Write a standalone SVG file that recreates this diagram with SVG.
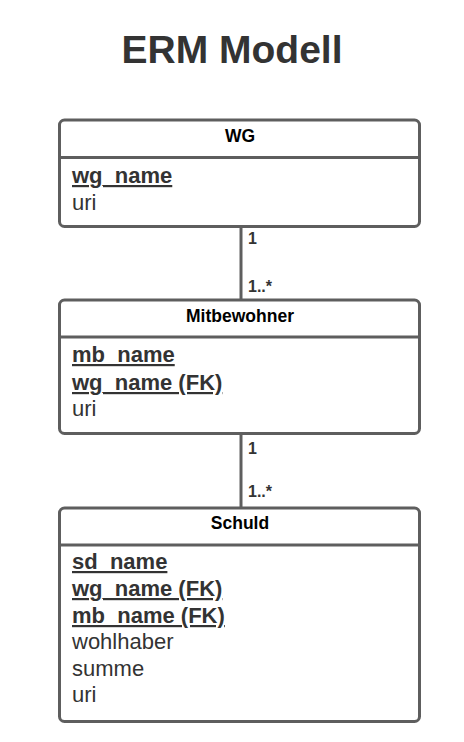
<svg xmlns="http://www.w3.org/2000/svg" width="464" height="742" viewBox="0 0 464 742">
<style>
.box{fill:#fff;stroke:#5e5e5e;stroke-width:3}
.div{stroke:#5e5e5e;stroke-width:3}
.hdr{font-family:"Liberation Sans",Arial,sans-serif;font-weight:bold;font-size:17.5px;fill:#000;text-anchor:middle}
.pk{font-family:"Liberation Sans",Arial,sans-serif;font-weight:bold;font-size:22px;fill:#333;text-decoration:underline}
.at{font-family:"Liberation Sans",Arial,sans-serif;font-size:22px;fill:#333}
.lbl{font-family:"Liberation Sans",Arial,sans-serif;font-weight:bold;font-size:16px;fill:#333}
.conn{stroke:#5e5e5e;stroke-width:3;fill:none}
</style>
<rect width="464" height="742" fill="#fff"/>
<text x="232" y="63" font-family="Liberation Sans,Arial,sans-serif" font-weight="bold" font-size="39" fill="#333" text-anchor="middle">ERM Modell</text>
<g id="connectors">
<line class="conn" x1="241" y1="227" x2="241" y2="300"/>
<line class="conn" x1="241" y1="434" x2="241" y2="508"/>
<text class="lbl" x="248" y="244">1</text>
<text class="lbl" x="248" y="292">1..*</text>
<text class="lbl" x="248" y="454">1</text>
<text class="lbl" x="248" y="497">1..*</text>
</g>
<g id="wg">
<rect class="box" x="59.5" y="120" width="360" height="106.5" rx="5"/>
<line class="div" x1="59.5" y1="157.5" x2="419.5" y2="157.5"/>
<text class="hdr" x="240" y="142">WG</text>
<text class="pk" x="72" y="183">wg_name</text>
<text class="at" x="72" y="210">uri</text>
</g>
<g id="mitbewohner">
<rect class="box" x="59.5" y="300" width="360" height="133.5" rx="5"/>
<line class="div" x1="59.5" y1="337" x2="419.5" y2="337"/>
<text class="hdr" x="240" y="322">Mitbewohner</text>
<text class="pk" x="72" y="362">mb_name</text>
<text class="pk" x="72" y="390">wg_name (FK)</text>
<text class="at" x="72" y="416">uri</text>
</g>
<g id="schuld">
<rect class="box" x="59.5" y="508" width="360" height="213.5" rx="5"/>
<line class="div" x1="59.5" y1="545" x2="419.5" y2="545"/>
<text class="hdr" x="240" y="529">Schuld</text>
<text class="pk" x="72" y="569">sd_name</text>
<text class="pk" x="72" y="596">wg_name (FK)</text>
<text class="pk" x="72" y="623">mb_name (FK)</text>
<text class="at" x="72" y="649">wohlhaber</text>
<text class="at" x="72" y="676">summe</text>
<text class="at" x="72" y="702">uri</text>
</g>
</svg>
